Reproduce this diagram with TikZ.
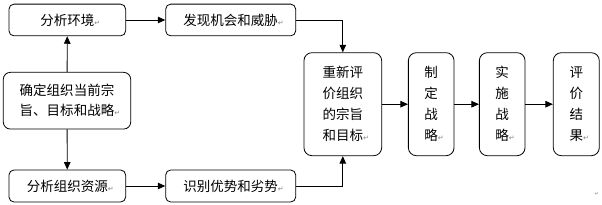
\documentclass[tikz,border=0pt]{standalone}
\usepackage{fontspec}
\setmainfont{Noto Sans CJK SC}
\newfontfamily\symfont{DejaVu Sans}
\usetikzlibrary{arrows.meta}
\newcommand\parmark{\rlap{\symfont\color{gray}\fontsize{7}{7}\selectfont ↵}}
\begin{document}
\begin{tikzpicture}[x=1pt,y=-1pt,
  box/.style={draw, rounded corners=5pt, line width=0.8pt, inner sep=0pt, anchor=center,
    font=\fontsize{13.5}{20}\selectfont},
  tallbox/.style={box, rounded corners=8pt, minimum height=103pt, align=center,
    font=\fontsize{13.5}{21}\selectfont},
  conn/.style={line width=0.8pt, -{Triangle[length=7.5pt,width=6.5pt]}}]
\useasboundingbox (0,0) rectangle (602,205);
\node[box, minimum width=116.7pt, minimum height=31.7pt] (a) at (67.3,20) {分析环境\parmark};
\node[box, minimum width=130pt, minimum height=31.7pt] (b) at (230.7,20) {发现机会和威胁\parmark};
\node[box, rounded corners=7pt, minimum width=127.4pt, minimum height=56.7pt, align=left] (c) at (67,100.7) {确定组织当前宗\\旨、目标和战略\parmark};
\node[box, minimum width=116.7pt, minimum height=32pt] (d) at (67.3,186) {分析组织资源\parmark};
\node[box, minimum width=130pt, minimum height=32pt] (e) at (230.7,186) {识别优势和劣势\parmark};
\node[tallbox, minimum width=77.7pt] (f) at (342.8,104.2) {重新评\\价组织\\的宗旨\\和目标\parmark};
\node[tallbox, minimum width=45.7pt] (g) at (431.2,104.2) {制\\定\\战\\略\parmark};
\node[tallbox, minimum width=45.7pt] (h) at (502.2,104.2) {实\\施\\战\\略\parmark};
\node[tallbox, minimum width=46pt] (i) at (576.3,104.2) {评\\价\\结\\果\parmark};
\node[inner sep=0pt, font=\symfont\fontsize{5}{5}\selectfont, text=gray] (pm) at (597,194) {↵};
\draw[conn] (a) -- (b);
\draw[conn] (c) -- (a);
\draw[conn] (c) -- (d);
\draw[conn] (d) -- (e);
\draw[conn] (b.east) -| (f.north);
\draw[conn] (e.east) -| (f.south);
\draw[conn] (f) -- (g);
\draw[conn] (g) -- (h);
\draw[conn] (h) -- (i);
\end{tikzpicture}
\end{document}
